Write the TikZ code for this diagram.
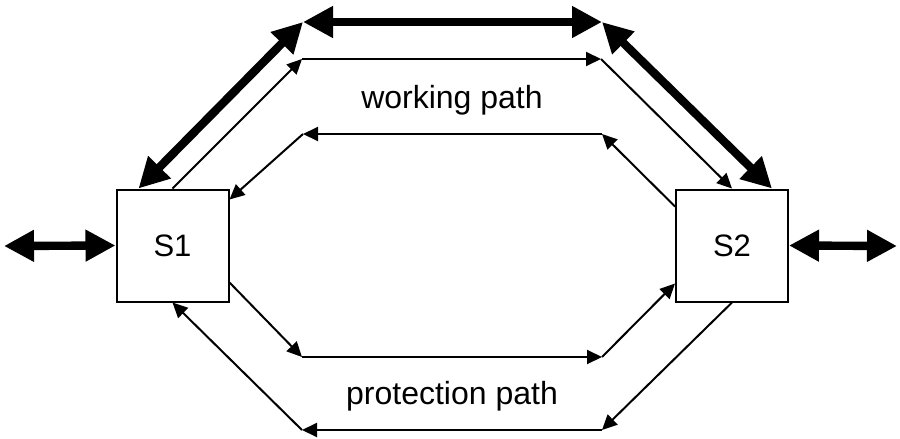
\documentclass[tikz,border=0pt]{standalone}
\usepackage{fontspec}
\setmainfont{Liberation Sans}
\usetikzlibrary{
    arrows.meta,calc,positioning
}

\tikzset{
    switchbox/.style={draw, line width=1pt, minimum size=56pt, inner sep=0pt,
        font=\fontsize{15.5}{18}\selectfont},
    bothway/.style={line width=4.2pt,
        {Triangle[length=15pt,width=15pt]}-{Triangle[length=15pt,width=15pt]}},
    oneway/.style={line width=1pt, -{Triangle[length=7.5pt,width=7pt]}},
    pathlabel/.style={font=\fontsize{16}{19}\selectfont}
}

\begin{document}
\begin{tikzpicture}[x=0.5pt, y=-0.5pt]
                    \useasboundingbox (0, 0) rectangle (900, 439);
                    % Switches
                    \node[switchbox] (S1) at (172.5, 245.5) {S1};
                    \node[switchbox] (S2) at (732, 245.5) {S2};
                    % Corners
                    \coordinate (wt1) at (303, 22);
                    \coordinate (wt2) at (602, 22);
                    \coordinate (wa1) at (302, 59);
                    \coordinate (wa2) at (601, 59);
                    \coordinate (wb1) at (303, 134);
                    \coordinate (wb2) at (602, 134);
                    \coordinate (pa1) at (302, 357);
                    \coordinate (pa2) at (602, 357);
                    \coordinate (pb1) at (302, 430);
                    \coordinate (pb2) at (602, 430);
                    \coordinate (in1) at (4, 246);
                    \coordinate (in2) at (897, 246);
                    % Labels
                    \node[pathlabel] (wlabel) at (452, 100) {working path};
                    \node[pathlabel] (plabel) at (452, 396) {protection path};
                    % Outside links
                    \draw[bothway] (in1) -- (S1.west);
                    \draw[bothway] (S2.east) -- (in2);
                    % Bidirectional working link
                    \draw[bothway] ([xshift=11.5pt]S1.north west) -- (wt1);
                    \draw[bothway] (wt1) -- (wt2);
                    \draw[bothway] (wt2) -- ([xshift=-8.5pt]S2.north east);
                    % Working path
                    \draw[oneway] (S1.north) -- (wa1);
                    \draw[oneway] (wa1) -- (wa2);
                    \draw[oneway] (wa2) -- (S2.north);
                    \draw[oneway] ([yshift=-9pt]S2.north west) -- (wb2);
                    \draw[oneway] (wb2) -- (wb1);
                    \draw[oneway] (wb1) -- ([yshift=-5.5pt]S1.north east);
                    % Protection path
                    \draw[oneway] ([yshift=10pt]S1.south east) -- (pa1);
                    \draw[oneway] (pa1) -- (pa2);
                    \draw[oneway] (pa2) -- ([yshift=9.5pt]S2.south west);
                    \draw[oneway] (S2.south) -- (pb2);
                    \draw[oneway] (pb2) -- (pb1);
                    \draw[oneway] (pb1) -- (S1.south);
                \end{tikzpicture}
\end{document}
